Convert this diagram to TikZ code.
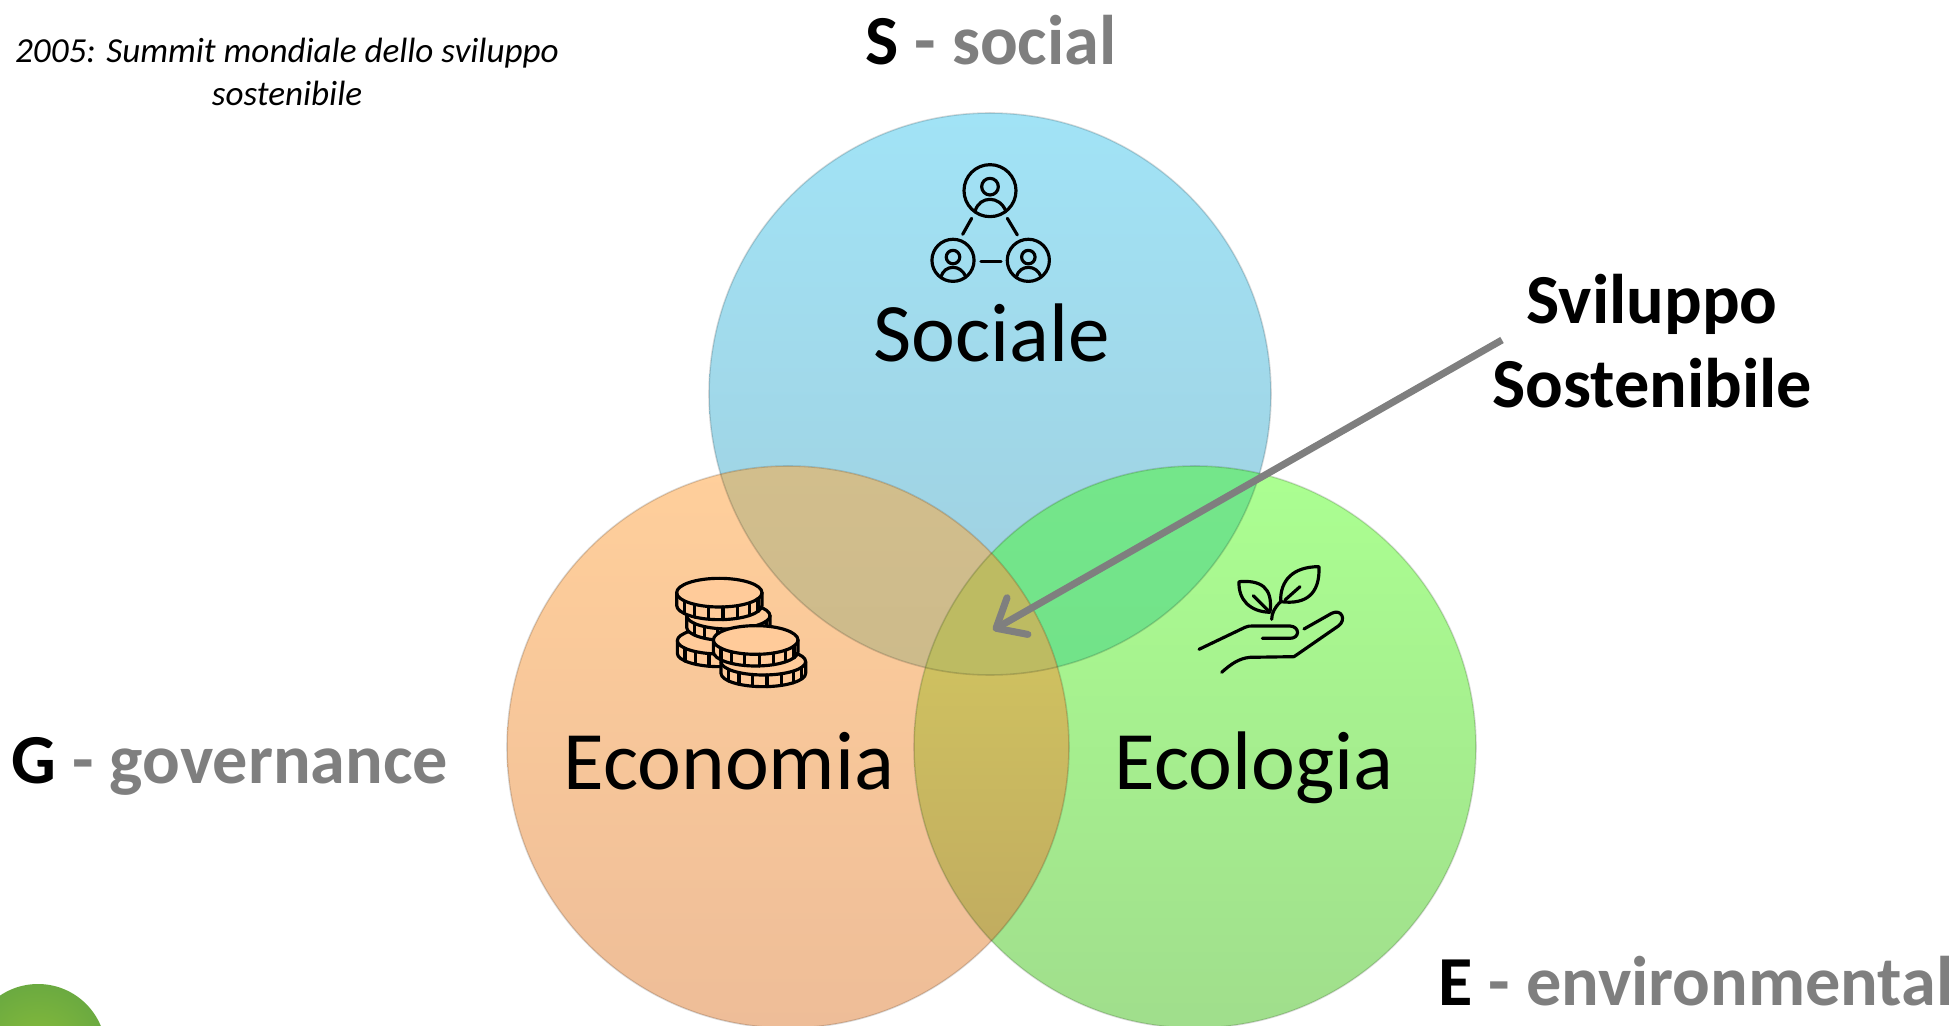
\documentclass[tikz,border=0pt]{standalone}
\usepackage{fontspec}
\setmainfont{Carlito}
\usetikzlibrary{arrows.meta}
\definecolor{capgray}{HTML}{7F7F7F}
\definecolor{coinbg}{HTML}{FFCB9A}
\tikzset{
	venn/.style={draw=black, draw opacity=0.15, line width=0.9pt},
	bigtext/.style={font=\fontsize{47.3}{50}\selectfont, anchor=base},
	captext/.style={font=\fontsize{40}{44}\selectfont\bfseries, text=capgray, anchor=base},
	icon/.style={line width=1.8pt, line cap=round, line join=round},
}
\newcommand{\person}[3]{
	\begin{scope}[shift={(#1,#2)}, scale=#3]
		\draw[icon] (0,0) circle (78);
		\draw[icon] (0,-12) circle (25);
		\draw[icon] (-45,62) .. controls (-38,38) and (-20,26) .. (0,26) .. controls (20,26) and (38,38) .. (48,62);
	\end{scope}
}
\newcommand{\coin}[5]{
	\fill[coinbg] (#1-#3,#2) -- (#1-#3,#2+#5) arc[start angle=180, end angle=0, x radius=#3, y radius=#4] -- (#1+#3,#2) arc[start angle=0, end angle=-180, x radius=#3, y radius=#4] -- cycle;
	\draw[icon] (#1-#3,#2) -- (#1-#3,#2+#5) arc[start angle=180, end angle=0, x radius=#3, y radius=#4] -- (#1+#3,#2);
	\draw[icon] (#1,#2) ellipse [x radius=#3, y radius=#4];
	\foreach \t in {25,45,...,155}
		\draw[icon] ({#1+#3*cos(\t)},{#2+#4*sin(\t)}) -- ({#1+#3*cos(\t)},{#2+#4*sin(\t)+#5});
}
\definecolor{soctop}{HTML}{A1E3F6}
\definecolor{socbot}{HTML}{A0CEDD}
\definecolor{ecotop}{HTML}{FFCF9B}
\definecolor{ecobot}{HTML}{EEBD98}
\definecolor{ecltop}{HTML}{ABFF91}
\definecolor{eclbot}{HTML}{A0DE8C}
\begin{document}
\begin{tikzpicture}[x=0.02cm, y=-0.02cm]
	\useasboundingbox (0,0) rectangle (1958,1026);
	% green blob, cut by the page
	\begin{scope}
		\clip (0,0) rectangle (1958,1026);
		\definecolor{blobin}{HTML}{88BC3A}
		\definecolor{blobout}{HTML}{6BAA40}
		\shade[inner color=blobin, outer color=blobout] (38,1052) circle (68);
	\end{scope}
	% circles
	\shade[top color=soctop, bottom color=socbot] (990,394) circle (281);
	\shade[top color=ecotop, bottom color=ecobot] (788,747) circle (281);
	\shade[top color=ecltop, bottom color=eclbot] (1195,747) circle (281);
	\definecolor{sectop}{HTML}{D2BE8C}
	\definecolor{secbot}{HTML}{C4B48A}
	\definecolor{sgrtop}{HTML}{74E68A}
	\definecolor{sgrbot}{HTML}{6FDC88}
	\definecolor{lenstop}{HTML}{D8CF60}
	\definecolor{lensbot}{HTML}{BDA660}
	\definecolor{triple}{HTML}{BDBB62}
	\begin{scope}
		\clip (990,394) circle (281);
		\shade[top color=sectop, bottom color=secbot] (788,747) circle (281);
		\shade[top color=sgrtop, bottom color=sgrbot] (1195,747) circle (281);
	\end{scope}
	\begin{scope}
		\clip (788,747) circle (281);
		\shade[top color=lenstop, bottom color=lensbot] (1195,747) circle (281);
		\clip (1195,747) circle (281);
		\fill[fill=triple] (990,394) circle (281);
	\end{scope}
	\draw[venn] (990,394) circle (281);
	\draw[venn] (788,747) circle (281);
	\draw[venn] (1195,747) circle (281);
	% icons
	\begin{scope}[shift={(880,140)}, scale=1/3]
		\person{330}{152}{1}
		\person{219}{361}{0.81}
		\person{445}{361}{0.81}
		\draw[icon] (275,235) -- (248,283);
		\draw[icon] (382,235) -- (412,285);
		\draw[icon] (303,364) -- (363,364);
	\end{scope}
	\begin{scope}[shift={(650,550)}, scale=1/3]
		\coin{210}{272}{128}{40}{38}
		\coin{235}{197}{125}{40}{35}
		\coin{208}{128}{128}{43}{38}
		\coin{340}{335}{127}{40}{35}
		\coin{317}{270}{127}{43}{35}
	\end{scope}
	\begin{scope}[shift={(1170,550)}, scale=1/3]
		\draw[icon] (207,95) .. controls (270,90) and (310,110) .. (300,187) .. controls (240,185) and (205,150) .. (207,95);
		\draw[icon] (447,50) .. controls (370,50) and (330,90) .. (332,155) .. controls (410,165) and (450,130) .. (447,50);
		\draw[icon] (250,137) -- (298,185);
		\draw[icon] (345,150) -- (390,110);
		\draw[icon] (305,208) .. controls (305,190) and (315,170) .. (332,155);
		\draw[icon] (87,298) -- (225,232) .. controls (232,228) and (240,228) .. (250,228) -- (360,228) .. controls (390,230) and (390,265) .. (360,265) -- (277,265);
		\draw[icon] (402,237) -- (485,190) .. controls (515,175) and (530,210) .. (505,228) -- (372,320) -- (240,322) .. controls (205,325) and (180,345) .. (155,367);
	\end{scope}
	% labels
	\node[bigtext] (sociale) at (992,362) {Sociale};
	\node[bigtext] (economia) at (729,789) {Economia};
	\node[bigtext] (ecologia) at (1254,789) {Ecologia};
	\node[font=\fontsize{20}{24.8}\selectfont\itshape, align=center] (summit) at (287,72) {2005: Summit mondiale dello sviluppo\\sostenibile};
	\node[captext] (social) at (991,65) {\textcolor{black}{S} - social};
	\node[captext] (governance) at (230,784) {\textcolor{black}{G} - governance};
	\node[captext] (environmental) at (1696,1005) {\textcolor{black}{E} - environmental};
	\node[font=\fontsize{40}{48}\selectfont\bfseries, align=center] (sviluppo) at (1652,341) {Sviluppo\\Sostenibile};
	\coordinate (center) at (993,630);
	\draw[-{Straight Barb[round, length=14pt, width=24pt]}, capgray, line width=4pt] (1502,340) -- (center);
\end{tikzpicture}
\end{document}
